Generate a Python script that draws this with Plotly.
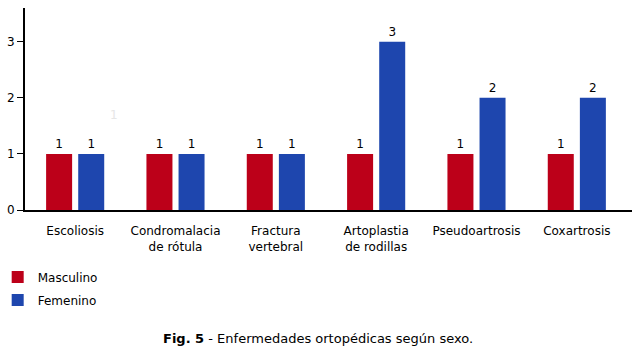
import plotly.graph_objects as go

categories = ["Escoliosis", "Condromalacia<br>de rótula", "Fractura<br>vertebral",
              "Artoplastia<br>de rodillas", "Pseudoartrosis", "Coxartrosis"]
masculino = [1, 1, 1, 1, 1, 1]
femenino = [1, 1, 1, 3, 2, 2]
y_ticks = [0, 1, 2, 3]
caption = "<b>Fig. 5</b> - Enfermedades ortopédicas según sexo."

FONT = "DejaVu Sans, Verdana, sans-serif"

fig = go.Figure()
fig.add_trace(go.Bar(
    x=categories, y=masculino, name="Masculino", legendgroup="m",
    marker=dict(color="#BC0019", line=dict(width=0)),
    text=masculino, textposition="outside", cliponaxis=False,
    textfont=dict(size=12, color="black", family=FONT),
))
fig.add_trace(go.Bar(
    x=categories, y=femenino, name="Femenino", legendgroup="f",
    marker=dict(color="#1E46AE", line=dict(width=0)),
    text=femenino, textposition="outside", cliponaxis=False,
    textfont=dict(size=12, color="black", family=FONT),
))

fig.update_layout(
    width=637, height=352,
    margin=dict(l=25, r=5, t=8, b=142, autoexpand=False),
    paper_bgcolor="white", plot_bgcolor="white",
    font=dict(family=FONT, size=12, color="black"),
    barmode="group", bargap=0.36, bargroupgap=0.19,
    showlegend=True,
    legend=dict(
        x=-0.045, y=-0.26, xanchor="left", yanchor="top",
        orientation="v", tracegroupgap=4,
        font=dict(size=12, family=FONT, color="black"),
        bgcolor="rgba(0,0,0,0)",
    ),
    xaxis=dict(
        range=[-0.5, 5.55], showline=True, linecolor="black", linewidth=2,
        ticks="", showgrid=False, zeroline=False, ticklabelstandoff=9,
        tickfont=dict(size=12, family=FONT), automargin=False,
    ),
    yaxis=dict(
        range=[0, 3.6], tickvals=y_ticks, showline=True, linecolor="black",
        linewidth=2, ticks="outside", ticklen=6, tickcolor="black",
        showgrid=False, zeroline=False, tickfont=dict(size=12, family=FONT),
        automargin=False,
    ),
    annotations=[
        dict(text=caption, xref="paper", yref="paper", x=0.483, y=-0.635,
             xanchor="center", yanchor="middle", showarrow=False,
             font=dict(size=13, family=FONT, color="black")),
        dict(text="1", xref="x", yref="y", x=0.39, y=1.69, showarrow=False,
             font=dict(size=12, family=FONT, color="#e6e6e6")),
    ],
)

fig.write_html("out.html")
